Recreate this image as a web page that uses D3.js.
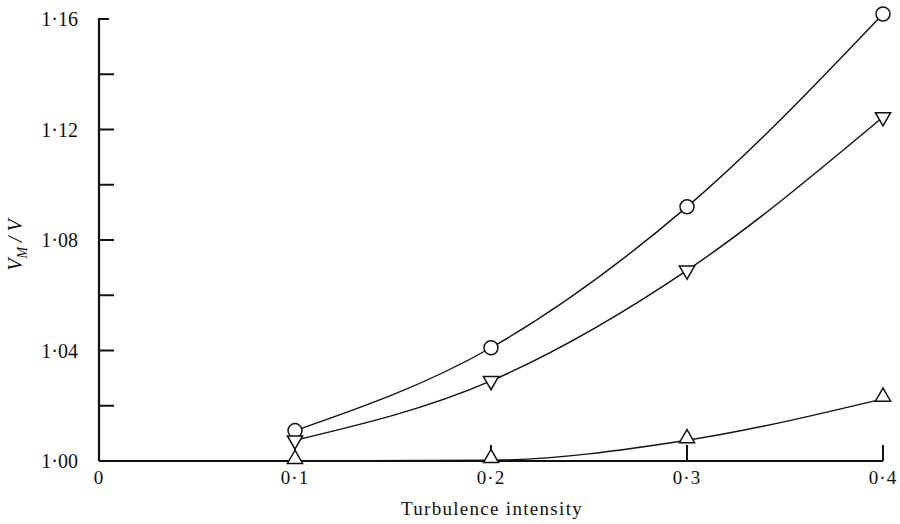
<!DOCTYPE html>
<html><head><meta charset="utf-8">
<script src="https://cdn.jsdelivr.net/npm/d3@7"></script>
<style>
body{margin:0;background:#fff;}
svg{display:block;}
text{font-family:"Liberation Serif","DejaVu Serif",serif;fill:#111;}
</style></head>
<body><svg id="c" width="900" height="524"></svg>
<script>
const xValues = [0.1, 0.2, 0.3, 0.4];
const circleSeries = [1.011, 1.041, 1.092, 1.1618];
const downTriSeries = [1.0075, 1.029, 1.069, 1.1245];
const upTriSeries = [1.000, 1.0003, 1.0075, 1.0225];
const xTickValues = [0, 0.1, 0.2, 0.3, 0.4];
const xTickLabels = ["0", "0·1", "0·2", "0·3", "0·4"];
const yMajorTicks = [1.00, 1.04, 1.08, 1.12, 1.16];
const yMajorLabels = ["1·00", "1·04", "1·08", "1·12", "1·16"];
const yMinorTicks = [1.02, 1.06, 1.10, 1.14];

const svg = d3.select("#c");
const x = d3.scaleLinear().domain([0, 0.4]).range([99, 883]);
const y = d3.scaleLinear().domain([1.0, 1.16]).range([461, 19]);
const ink = "#111";

// axes lines
svg.append("line").attr("x1", x(0)).attr("x2", x(0)).attr("y1", y(1.16) - 1).attr("y2", y(1.0))
  .attr("stroke", ink).attr("stroke-width", 2.2);
svg.append("line").attr("x1", x(0)).attr("x2", x(0.4)).attr("y1", y(1.0)).attr("y2", y(1.0))
  .attr("stroke", ink).attr("stroke-width", 2.2);

// y ticks
svg.selectAll(".ymaj").data(yMajorTicks.filter(d => d > 1.0)).enter().append("line")
  .attr("x1", x(0)).attr("x2", d => x(0) + (d === 1.16 ? 10 : 15))
  .attr("y1", d => y(d)).attr("y2", d => y(d)).attr("stroke", ink).attr("stroke-width", 2);
svg.selectAll(".ymin").data(yMinorTicks).enter().append("line")
  .attr("x1", x(0)).attr("x2", x(0) + 15)
  .attr("y1", d => y(d)).attr("y2", d => y(d)).attr("stroke", ink).attr("stroke-width", 2);
svg.selectAll(".ylab").data(yMajorTicks).enter().append("text")
  .attr("x", x(0) - 21).attr("y", d => y(d)).attr("dy", "0.35em")
  .attr("text-anchor", "end").attr("font-size", 20)
  .text((d, i) => yMajorLabels[i]);

// x ticks (upward)
svg.selectAll(".xt").data(xTickValues.filter(d => d > 0)).enter().append("line")
  .attr("x1", d => x(d)).attr("x2", d => x(d)).attr("y1", y(1.0)).attr("y2", y(1.0) - 16)
  .attr("stroke", ink).attr("stroke-width", 2);
svg.selectAll(".xlab").data(xTickValues).enter().append("text")
  .attr("x", d => x(d)).attr("y", 484)
  .attr("text-anchor", "middle").attr("font-size", 19).attr("letter-spacing", 1)
  .text((d, i) => xTickLabels[i]);

// axis titles
svg.append("text").attr("x", 492).attr("y", 515).attr("text-anchor", "middle")
  .attr("font-size", 19).attr("letter-spacing", 1.3).text("Turbulence intensity");
const yl = svg.append("text").attr("transform", "translate(22,245) rotate(-90)")
  .attr("text-anchor", "middle").attr("font-size", 20).attr("font-style", "italic");
yl.append("tspan").text("V");
yl.append("tspan").attr("font-size", 14).attr("dy", 5).text("M");
yl.append("tspan").attr("dy", -5).text(" / V");

// lines
const line = d3.line().x(d => x(d[0])).y(d => y(d[1])).curve(d3.curveMonotoneX);
[circleSeries, downTriSeries, upTriSeries].forEach(s => {
  svg.append("path").datum(xValues.map((v, i) => [v, s[i]])).attr("d", line)
    .attr("fill", "none").attr("stroke", ink).attr("stroke-width", 1.4);
});

// markers
svg.selectAll(".circ").data(xValues).enter().append("circle")
  .attr("cx", d => x(d)).attr("cy", (d, i) => y(circleSeries[i])).attr("r", 7)
  .attr("fill", "#fff").attr("stroke", ink).attr("stroke-width", 1.5);
const tri = d3.symbol().type(d3.symbolTriangle).size(100);
svg.selectAll(".dtri").data(xValues).enter().append("path")
  .attr("d", tri).attr("transform", (d, i) => `translate(${x(d)},${y(downTriSeries[i])}) rotate(180)`)
  .attr("fill", "#fff").attr("stroke", ink).attr("stroke-width", 1.5);
svg.selectAll(".utri").data(xValues).enter().append("path")
  .attr("d", tri).attr("transform", (d, i) => `translate(${x(d)},${y(upTriSeries[i]) - 2})`)
  .attr("fill", "#fff").attr("stroke", ink).attr("stroke-width", 1.5);
</script></body></html>
